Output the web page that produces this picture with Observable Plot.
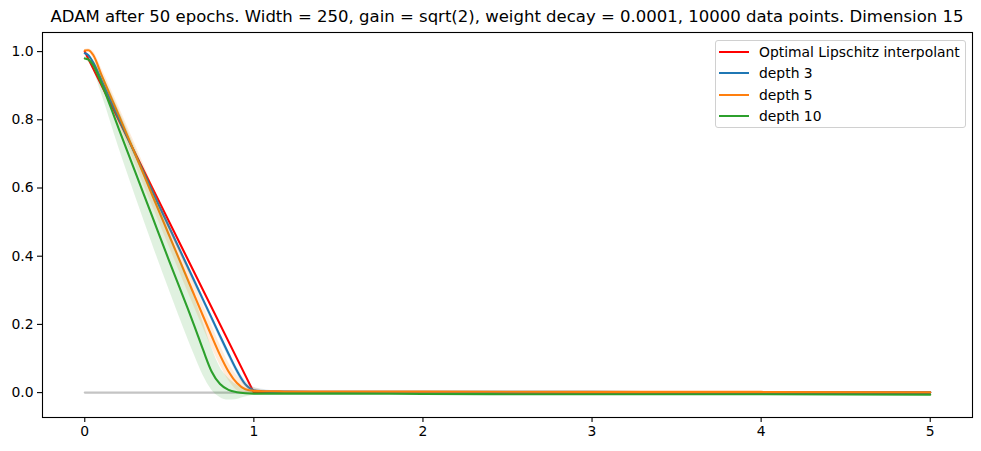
<!DOCTYPE html>
<html>
<head>
<meta charset="utf-8">
<script src="https://cdn.jsdelivr.net/npm/d3@7"></script>
<script src="https://cdn.jsdelivr.net/npm/@observablehq/plot@0.6"></script>
<style>
  body { margin: 0; background: white; }
  #wrap { position: relative; width: 981px; height: 451px; font-family: "DejaVu Sans", sans-serif; }
  #title { position: absolute; left: 42px; width: 930px; top: 7px; text-align: center; font-size: 16.5px; line-height: 20px; color: black; white-space: nowrap; }
  #legend { position: absolute; left: 715px; top: 40px; width: 249px; height: 86px; border: 1px solid #d0d0d0; border-radius: 3px; background: rgba(255,255,255,0.8); font-size: 13.9px; color: black; }
  .row { position: absolute; left: 0; height: 20px; display: flex; align-items: center; white-space: nowrap; }
  .sw { display: inline-block; width: 30px; height: 2px; margin-left: 3px; margin-right: 10px; }
</style>
</head>
<body>
<div id="wrap">
  <div id="chart"></div>
  <div id="title"></div>
  <div id="legend"></div>
</div>
<script>
const titleText = "ADAM after 50 epochs. Width = 250, gain = sqrt(2), weight decay = 0.0001, 10000 data points. Dimension 15";
const seriesNames = ["Optimal Lipschitz interpolant", "depth 3", "depth 5", "depth 10"];
const seriesColors = ["#ff0000", "#1f77b4", "#ff7f0e", "#2ca02c"];
const xTicks = [0, 1, 2, 3, 4, 5];
const yTicks = [0.0, 0.2, 0.4, 0.6, 0.8, 1.0];

const xGrid = [0, 0.02, 0.05, 0.1, 0.2, 0.3, 0.4, 0.5, 0.6, 0.65, 0.7, 0.75, 0.8, 0.85, 0.9, 0.95, 1.0, 1.05, 1.1, 1.2, 1.5, 2, 3, 4, 5];

const optimalX = [0, 1, 5];
const optimalY = [1, 0, 0];
const baselineX = [0, 5];
const baselineY = [0, 0];

const depth3 = [0.995, 0.99, 0.968, 0.915, 0.805, 0.697, 0.59, 0.484, 0.378, 0.325, 0.272, 0.219, 0.166, 0.114, 0.064, 0.024, 0.007, 0.004, 0.003, 0.003, 0.002, 0.002, 0.002, 0.001, 0.001];
const depth3Lo = [0.992, 0.986, 0.962, 0.906, 0.795, 0.687, 0.58, 0.474, 0.368, 0.315, 0.262, 0.209, 0.156, 0.104, 0.054, 0.016, 0.0, 0.0, 0.001, 0.002, 0.001, 0.001, 0.001, 0.0, 0.0];
const depth3Hi = [0.998, 0.994, 0.974, 0.924, 0.815, 0.707, 0.6, 0.494, 0.388, 0.335, 0.282, 0.229, 0.176, 0.124, 0.075, 0.034, 0.016, 0.01, 0.006, 0.004, 0.003, 0.003, 0.003, 0.002, 0.002];

const depth5 = [1.003, 1.004, 0.99, 0.93, 0.815, 0.697, 0.578, 0.46, 0.342, 0.283, 0.224, 0.166, 0.11, 0.062, 0.028, 0.01, 0.005, 0.004, 0.004, 0.003, 0.003, 0.003, 0.002, 0.002, 0.001];
const depth5Lo = [1.0, 1.0, 0.98, 0.91, 0.79, 0.668, 0.547, 0.427, 0.307, 0.248, 0.19, 0.133, 0.08, 0.036, 0.006, -0.006, -0.004, 0.0, 0.002, 0.002, 0.002, 0.002, 0.001, 0.001, 0.0];
const depth5Hi = [1.006, 1.008, 1.0, 0.95, 0.84, 0.726, 0.609, 0.493, 0.377, 0.318, 0.258, 0.199, 0.14, 0.088, 0.05, 0.026, 0.014, 0.008, 0.006, 0.004, 0.004, 0.004, 0.003, 0.003, 0.002];

const depth10 = [0.98, 0.977, 0.96, 0.905, 0.775, 0.645, 0.515, 0.385, 0.258, 0.193, 0.125, 0.062, 0.025, 0.008, 0.001, -0.002, -0.003, -0.003, -0.003, -0.003, -0.003, -0.004, -0.005, -0.005, -0.006];
const depth10Lo = [0.975, 0.97, 0.945, 0.875, 0.72, 0.575, 0.435, 0.3, 0.17, 0.108, 0.05, 0.008, -0.014, -0.022, -0.02, -0.013, -0.008, -0.006, -0.005, -0.004, -0.004, -0.005, -0.006, -0.006, -0.007];
const depth10Hi = [0.985, 0.985, 0.975, 0.935, 0.83, 0.715, 0.595, 0.47, 0.346, 0.278, 0.206, 0.132, 0.074, 0.042, 0.022, 0.009, 0.002, 0.0, -0.001, -0.002, -0.002, -0.003, -0.004, -0.004, -0.005];

const table = (xs, ys, lo, hi) => xs.map((x, i) => ({x, y: ys[i], lo: lo ? lo[i] : null, hi: hi ? hi[i] : null}));
const optimal = table(optimalX, optimalY);
const baseline = table(baselineX, baselineY);
const d3s = table(xGrid, depth3, depth3Lo, depth3Hi);
const d5s = table(xGrid, depth5, depth5Lo, depth5Hi);
const d10s = table(xGrid, depth10, depth10Lo, depth10Hi);

const curve = "monotone-x";
const lw = 2.1;

const chart = Plot.plot({
  width: 981,
  height: 451,
  marginLeft: 42,
  marginRight: 9,
  marginTop: 32,
  marginBottom: 34,
  style: { fontFamily: "DejaVu Sans, sans-serif", fontSize: "13.9px", color: "black", background: "white", overflow: "visible" },
  x: { domain: [-0.25, 5.25] },
  y: { domain: [-0.073, 1.056] },
  marks: [
    Plot.line(baseline, { x: "x", y: "y", stroke: "#c4c4c4", strokeWidth: lw }),
    Plot.line(optimal, { x: "x", y: "y", stroke: seriesColors[0], strokeWidth: lw }),
    Plot.areaY(d3s, { x: "x", y1: "lo", y2: "hi", fill: seriesColors[1], fillOpacity: 0.15, curve }),
    Plot.line(d3s, { x: "x", y: "y", stroke: seriesColors[1], strokeWidth: lw, curve }),
    Plot.areaY(d5s, { x: "x", y1: "lo", y2: "hi", fill: seriesColors[2], fillOpacity: 0.15, curve }),
    Plot.line(d5s, { x: "x", y: "y", stroke: seriesColors[2], strokeWidth: lw, curve }),
    Plot.areaY(d10s, { x: "x", y1: "lo", y2: "hi", fill: seriesColors[3], fillOpacity: 0.15, curve }),
    Plot.line(d10s, { x: "x", y: "y", stroke: seriesColors[3], strokeWidth: lw, curve }),
    Plot.frame({ stroke: "black", strokeWidth: 1.1 }),
    Plot.axisX({ ticks: xTicks, tickFormat: d => String(d), tickSize: 5, tickPadding: 4, fontSize: 13.9, label: null, stroke: "black", strokeWidth: 1.1 }),
    Plot.axisY({ ticks: yTicks, tickFormat: d3.format(".1f"), tickSize: 5, tickPadding: 4, fontSize: 13.9, label: null, stroke: "black", strokeWidth: 1.1 })
  ]
});
document.getElementById("chart").appendChild(chart);
document.getElementById("title").textContent = titleText;

const legend = document.getElementById("legend");
const rowTops = [0, 21, 43, 64];
seriesNames.forEach((name, i) => {
  const row = document.createElement("div");
  row.className = "row";
  row.style.top = (rowTops[i] + 0.5) + "px";
  const sw = document.createElement("span");
  sw.className = "sw";
  sw.style.background = seriesColors[i];
  const t = document.createElement("span");
  t.textContent = name;
  row.appendChild(sw);
  row.appendChild(t);
  legend.appendChild(row);
});
</script>
</body>
</html>
